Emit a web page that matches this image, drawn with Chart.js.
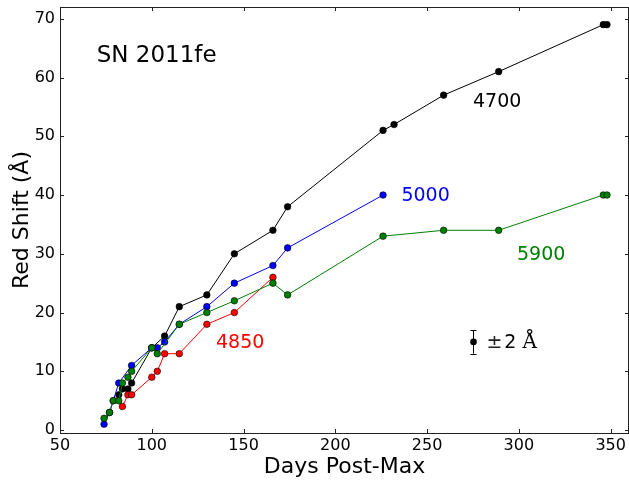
<!DOCTYPE html>
<html>
<head>
<meta charset="utf-8">
<script src="https://cdn.jsdelivr.net/npm/chart.js@4.4.1/dist/chart.umd.min.js"></script>
<style>
html, body { margin: 0; padding: 0; background: #fff; }
canvas { display: block; }
</style>
</head>
<body>
<canvas id="shiftChart" width="629" height="483"></canvas>
<script>
// feature wavelengths (A) and their measured shifts vs. epoch
var days4700 = [82, 84, 87, 89, 100, 107, 115, 130, 145, 166, 174, 226, 232, 259, 289, 346, 348];
var shift4700 = [6, 7, 7, 8, 14, 16, 21, 23, 30, 34, 38, 51, 52, 57, 61, 69, 69];

var days5000 = [74, 77, 79, 82, 89, 100, 103, 107, 115, 130, 145, 166, 174, 226];
var shift5000 = [1, 3, 5, 8, 11, 14, 14, 15, 18, 21, 25, 28, 31, 40];

var days4850 = [84, 87, 89, 100, 103, 107, 115, 130, 145, 166];
var shift4850 = [4, 6, 6, 9, 10, 13, 13, 18, 20, 26];

var days5900 = [74, 77, 79, 82, 84, 87, 89, 100, 103, 115, 130, 145, 166, 174, 226, 259, 289, 346, 348];
var shift5900 = [2, 3, 5, 5, 8, 9, 10, 14, 13, 18, 20, 22, 25, 23, 33, 34, 34, 40, 40];

// typical error shown as a sample point
var errDay = [275];
var errShift = [15];
var errSize = [2];

var xTicks = [50, 100, 150, 200, 250, 300, 350];
var yTicks = [0, 10, 20, 30, 40, 50, 60, 70];

var lineNames = ['4700', '5000', '5900', '4850'];
var titleText = 'SN 2011fe';

function pts(xs, ys) {
  return xs.map(function (x, i) { return {x: x, y: ys[i]}; });
}

function series(label, xs, ys, color) {
  return {
    label: label,
    data: pts(xs, ys),
    showLine: true,
    borderColor: color,
    borderWidth: 1,
    backgroundColor: color,
    pointBackgroundColor: color,
    pointBorderColor: '#000',
    pointBorderWidth: 0.6,
    pointRadius: 3.3,
    tension: 0
  };
}

var FONT = "'DejaVu Sans', sans-serif";
var SERIF = "'DejaVu Serif', serif";

// labels + error sample + the boxed frame with inward ticks
var decor = {
  id: 'decor',
  afterDatasetsDraw: function (chart) {
    var ctx = chart.ctx;
    var xs = chart.scales.x, ys = chart.scales.y;
    var a = chart.chartArea;
    ctx.save();

    // frame
    ctx.strokeStyle = '#222';
    ctx.lineWidth = 1;
    ctx.strokeRect(Math.round(a.left) + 0.5, Math.round(a.top) + 0.5,
      Math.round(a.right - a.left) - 1, Math.round(a.bottom - a.top));
    var tl = 4;
    ctx.beginPath();
    xTicks.forEach(function (v) {
      var px = Math.round(xs.getPixelForValue(v)) + 0.5;
      ctx.moveTo(px, a.bottom); ctx.lineTo(px, a.bottom - tl);
      ctx.moveTo(px, a.top); ctx.lineTo(px, a.top + tl);
    });
    yTicks.forEach(function (v) {
      var py = Math.round(ys.getPixelForValue(v)) + 0.5;
      ctx.moveTo(a.left, py); ctx.lineTo(a.left + tl, py);
      ctx.moveTo(a.right, py); ctx.lineTo(a.right - tl, py);
    });
    ctx.stroke();

    // text labels, baseline anchored at data coordinates
    ctx.textBaseline = 'alphabetic';
    ctx.textAlign = 'left';
    function put(txt, x, y, color, size) {
      ctx.fillStyle = color;
      ctx.font = size + 'px ' + FONT;
      ctx.fillText(txt, xs.getPixelForValue(x), ys.getPixelForValue(y));
    }
    put(titleText, 70, 62.7, '#000', 23);
    put(lineNames[0], 275, 55, '#000', 19);
    put(lineNames[1], 236, 39, '#0000ff', 19);
    put(lineNames[2], 299, 29, '#008000', 19);
    put(lineNames[3], 135, 14, '#ff0000', 19);

    // error bar on the sample point
    var ex = Math.round(xs.getPixelForValue(errDay[0])) + 0.5;
    var eTop = ys.getPixelForValue(errShift[0] + errSize[0]);
    var eBot = ys.getPixelForValue(errShift[0] - errSize[0]);
    ctx.strokeStyle = '#000';
    ctx.beginPath();
    ctx.moveTo(ex, eTop); ctx.lineTo(ex, eBot);
    ctx.moveTo(ex - 3, Math.round(eTop) + 0.5); ctx.lineTo(ex + 3, Math.round(eTop) + 0.5);
    ctx.moveTo(ex - 3, Math.round(eBot) + 0.5); ctx.lineTo(ex + 3, Math.round(eBot) + 0.5);
    ctx.stroke();
    ctx.fillStyle = '#000';
    ctx.beginPath();
    ctx.arc(ex, ys.getPixelForValue(errShift[0]), 3.3, 0, Math.PI * 2);
    ctx.fill();

    // "±2 Å"
    var tx = xs.getPixelForValue(282.3);
    var ty = ys.getPixelForValue(14);
    ctx.font = '19px ' + FONT;
    ctx.fillStyle = '#222';
    ctx.fillText('\u00b1', tx, ty);
    tx += ctx.measureText('\u00b1').width + 2;
    ctx.fillStyle = '#000';
    ctx.fillText(String(errSize[0]), tx, ty);
    tx += ctx.measureText(String(errSize[0])).width + 6;
    ctx.font = '20px ' + SERIF;
    ctx.fillText('\u00c5', tx, ty);

    ctx.restore();
  }
};

new Chart('shiftChart', {
  type: 'scatter',
  data: {
    datasets: [
      series('5900', days5900, shift5900, '#008000'),
      series('4850', days4850, shift4850, '#ff0000'),
      series('5000', days5000, shift5000, '#0000ff'),
      series('4700', days4700, shift4700, '#000000')
    ]
  },
  options: {
    responsive: false,
    animation: false,
    devicePixelRatio: 1,
    layout: {autoPadding: false, padding: {top: 7, right: 0, left: 0, bottom: 0}},
    plugins: {legend: {display: false}, tooltip: {enabled: false}},
    scales: {
      x: {
        type: 'linear',
        min: 50,
        max: 360,
        grid: {display: false, drawTicks: false},
        border: {display: false},
        afterBuildTicks: function (s) { s.ticks = xTicks.map(function (v) { return {value: v}; }); },
        afterFit: function (s) { s.height = 50; s.paddingLeft = 0; s.paddingRight = 0; },
        ticks: {color: '#000', padding: 3, font: {family: FONT, size: 16}, maxRotation: 0},
        title: {display: true, text: 'Days Post-Max', color: '#000', padding: 3, font: {family: FONT, size: 22}}
      },
      y: {
        type: 'linear',
        min: -0.5,
        max: 72,
        grid: {display: false, drawTicks: false},
        border: {display: false},
        afterBuildTicks: function (s) { s.ticks = yTicks.map(function (v) { return {value: v}; }); },
        afterFit: function (s) { s.width = 60; s.paddingTop = 0; s.paddingBottom = 0; },
        ticks: {color: '#000', padding: 5, font: {family: FONT, size: 16}},
        title: {display: true, text: 'Red Shift (\u00c5)', color: '#000', padding: 9, font: {family: FONT, size: 22}}
      }
    }
  },
  plugins: [decor]
});
</script>
</body>
</html>
